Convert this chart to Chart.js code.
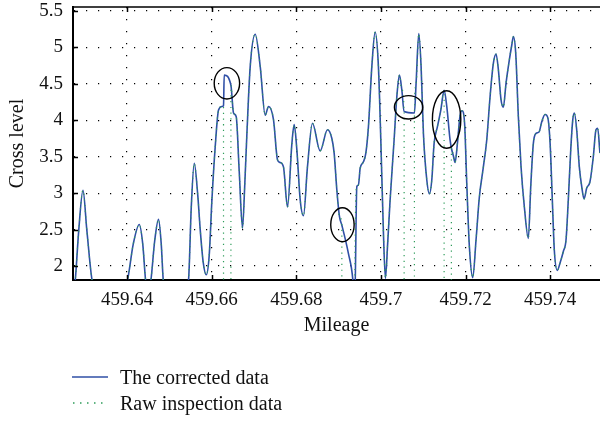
<!DOCTYPE html>
<html>
<head>
<meta charset="utf-8">
<script src="https://cdn.jsdelivr.net/npm/chart.js@4.4.1/dist/chart.umd.min.js"></script>
<style>
  html, body { margin: 0; padding: 0; background: #fff; }
  #wrap { position: relative; width: 600px; height: 421px; }
  #legend {
    position: absolute; left: 72px; top: 364px;
    font-family: "Liberation Serif", "Times New Roman", serif;
    font-size: 20px; color: #111;
  }
  .row { display: flex; align-items: center; height: 26px; }
  .row svg { width: 36px; height: 4px; margin-right: 12px; }
</style>
</head>
<body>
<div id="wrap">
  <canvas id="chart" width="600" height="421"></canvas>
  <div id="legend">
    <div class="row">
      <svg viewBox="0 0 36 4"><line x1="0" y1="2" x2="36" y2="2" stroke="#2f4fa6" stroke-width="1.5"/></svg>
      <span>The corrected data</span>
    </div>
    <div class="row">
      <svg viewBox="0 0 36 4"><line x1="1" y1="2" x2="36" y2="2" stroke="#2e9c5a" stroke-width="1.5" stroke-dasharray="1.5 5.5"/></svg>
      <span>Raw inspection data</span>
    </div>
  </div>
</div>
<script>
// ===== data =====
const xTicks = [459.64, 459.66, 459.68, 459.70, 459.72, 459.74];
const yTicks = [2, 2.5, 3, 3.5, 4, 4.5, 5, 5.5];
const xMin = 459.62722, xMax = 459.75179;
const yMin = 1.808, yMax = 5.555;

// corrected curve (mileage, cross level)
const mileage = [
  459.62658, 459.62776, 459.62859, 459.62958, 459.63048, 459.63171, 459.63580,
  459.64012, 459.64146, 459.64288, 459.64371, 459.64437, 459.64501,
  459.64565, 459.64654, 459.64744, 459.64808, 459.64855, 459.65139,
  459.65453, 459.65517, 459.65588, 459.65670, 459.65729, 459.65800, 459.65871, 459.65942,
  459.66006, 459.66084, 459.66162, 459.66242, 459.66280, 459.66296, 459.66455,
  459.66516, 459.66580, 459.66651, 459.66729, 459.66781, 459.66833, 459.66911,
  459.67029, 459.67147, 459.67265, 459.67343, 459.67461, 459.67555, 459.67619,
  459.67697, 459.67792, 459.67896, 459.67950, 459.68014, 459.68092, 459.68170,
  459.68264, 459.68382, 459.68564, 459.68737, 459.68841, 459.68895, 459.68959,
  459.69020, 459.69077, 459.69233, 459.69337, 459.69379, 459.69431, 459.69469,
  459.69509, 459.69587, 459.69644, 459.69705, 459.69786, 459.69864, 459.69941,
  459.69998, 459.70060, 459.70107, 459.70159, 459.70218, 459.70312, 459.70376,
  459.70438, 459.70494, 459.70549, 459.70792, 459.70832, 459.70896, 459.70950,
  459.71005, 459.71085, 459.71146, 459.71203, 459.71257, 459.71335, 459.71416,
  459.71494, 459.71557, 459.71635, 459.71666, 459.71718, 459.71753, 459.71808,
  459.71872, 459.71919, 459.71978, 459.72030, 459.72091, 459.72172, 459.72249,
  459.72328, 459.72422, 459.72502, 459.72580, 459.72658, 459.72722, 459.72776,
  459.72840, 459.72894, 459.72958, 459.73036, 459.73093, 459.73131, 459.73187,
  459.73249, 459.73313, 459.73391, 459.73485, 459.73542, 459.73603, 459.73667,
  459.73738, 459.73802, 459.73880, 459.73943, 459.74000, 459.74052, 459.74099,
  459.74170, 459.74234, 459.74312, 459.74376, 459.74430, 459.74487, 459.74534,
  459.74572, 459.74628, 459.74690, 459.74747, 459.74801, 459.74865, 459.74943,
  459.75021, 459.75084, 459.75125, 459.75179, 459.75273
];
const corrected = [
  1.30, 1.81, 2.50, 3.04, 2.50, 1.81, 1.20,
  1.81, 2.30, 2.57, 2.30, 1.81, 1.60,
  1.81, 2.35, 2.64, 2.30, 1.81, 1.20,
  1.81, 2.80, 3.41, 2.98, 2.50, 2.05, 1.88, 2.15,
  2.91, 3.64, 4.14, 4.19, 4.20, 4.62, 4.48,
  4.10, 4.05, 3.30, 2.52, 3.10, 3.82, 4.74,
  5.18, 4.74, 4.07, 4.19, 4.01, 3.46, 3.42,
  3.36, 2.81, 3.68, 3.94, 3.59, 2.91, 2.69,
  3.36, 3.96, 3.58, 3.87, 3.75, 3.55, 3.04,
  2.68, 2.56, 2.17, 1.81, 1.40, 3.09, 3.11,
  3.34, 3.43, 3.55, 3.91, 4.74, 5.21, 4.74,
  3.73, 2.45, 1.83, 2.30, 2.91, 3.73, 4.32,
  4.62, 4.42, 4.12, 4.10, 4.51, 5.19, 4.74,
  3.82, 3.18, 2.99, 3.18, 3.68, 3.91, 4.14,
  4.41, 4.19, 3.73, 3.62, 3.50, 3.42, 3.68,
  4.07, 4.13, 3.96, 3.13, 2.27, 1.84, 2.36,
  2.95, 3.36, 3.73, 4.32, 4.78, 4.91, 4.70,
  4.28, 4.18, 4.51, 4.83, 5.03, 5.15, 4.92,
  4.05, 3.36, 2.81, 2.38, 3.09, 3.68, 3.82,
  3.84, 3.98, 4.08, 4.04, 3.68, 2.91, 2.22,
  1.94, 2.04, 2.20, 2.36, 2.91, 3.59, 4.00,
  4.10, 3.87, 3.36, 3.09, 2.92, 3.07, 3.16,
  3.50, 3.87, 3.89, 3.55, 3.20
];

// raw inspection data drops out between these mileages
const dropStart = [459.66280, 459.69077, 459.70549, 459.71494];
const dropEnd   = [459.66455, 459.69379, 459.70792, 459.71666];
const dropLevel = 0;

// circled anomalies
const circleMileage = [459.66360, 459.69091, 459.70655, 459.71553];
const circleLevel   = [4.508, 2.567, 4.178, 4.011];

// ===== build datasets =====
const correctedPoints = mileage.map((m, i) => ({ x: m, y: corrected[i] }));
const rawPoints = [];
mileage.forEach((m, i) => {
  const k = dropStart.findIndex((s, j) => m >= s && m <= dropEnd[j]);
  if (k < 0) {
    rawPoints.push({ x: m, y: corrected[i] });
  } else if (m === dropStart[k]) {
    rawPoints.push({ x: m, y: corrected[i] }, { x: m + 1e-6, y: dropLevel });
  } else if (m === dropEnd[k]) {
    rawPoints.push({ x: m - 1e-6, y: dropLevel }, { x: m, y: corrected[i] });
  }
});

const FONT = "'Liberation Serif', 'Times New Roman', serif";
const fmt = v => String(+Number(v).toFixed(2));

// frame on top + inward tick marks (matlab style)
const framePlugin = {
  id: 'frame',
  afterDraw(chart) {
    const { ctx, chartArea: a, scales: { x, y } } = chart;
    ctx.save();
    ctx.strokeStyle = '#000';
    ctx.lineWidth = 1.5;
    ctx.beginPath();
    ctx.moveTo(a.left, a.top);
    ctx.lineTo(a.right, a.top);
    x.ticks.forEach(t => {
      const px = Math.round(x.getPixelForValue(t.value)) + 0.5;
      ctx.moveTo(px, a.bottom); ctx.lineTo(px, a.bottom - 5);
      ctx.moveTo(px, a.top); ctx.lineTo(px, a.top + 5);
    });
    y.ticks.forEach(t => {
      const py = Math.round(y.getPixelForValue(t.value)) + 0.5;
      ctx.moveTo(a.left, py); ctx.lineTo(a.left + 5, py);
    });
    ctx.stroke();
    ctx.restore();
  }
};

// black ellipses around the anomalies
const circlePlugin = {
  id: 'circles',
  afterDatasetsDraw(chart, args, opts) {
    const { ctx, scales: { x, y } } = chart;
    ctx.save();
    ctx.strokeStyle = '#000';
    ctx.lineWidth = 1.4;
    circleMileage.forEach((m, i) => {
      const [rx, ry] = opts.radii[i];
      ctx.beginPath();
      ctx.ellipse(x.getPixelForValue(m), y.getPixelForValue(circleLevel[i]), rx, ry, 0, 0, Math.PI * 2);
      ctx.stroke();
    });
    ctx.restore();
  }
};

new Chart(document.getElementById('chart'), {
  type: 'line',
  data: {
    datasets: [
      {
        label: 'Raw inspection data',
        data: rawPoints,
        borderColor: '#2e9c5a',
        borderWidth: 1.2,
        borderDash: [1.2, 4.5],
        cubicInterpolationMode: 'monotone',
        pointRadius: 0,
        order: 0
      },
      {
        label: 'The corrected data',
        data: correctedPoints,
        borderColor: '#2f4fa6',
        borderWidth: 1.6,
        cubicInterpolationMode: 'monotone',
        pointRadius: 0,
        order: 1
      }
    ]
  },
  options: {
    responsive: false,
    animation: false,
    events: [],
    layout: { padding: { top: 7, right: 0, bottom: 0, left: 0 } },
    plugins: {
      legend: { display: false },
      tooltip: { enabled: false },
      circles: { radii: [[12.7, 15.7], [11.7, 17], [14.2, 11.7], [14.2, 28.8]] }
    },
    scales: {
      x: {
        type: 'linear',
        min: xMin,
        max: xMax,
        afterBuildTicks: s => { s.ticks = xTicks.map(v => ({ value: v })); },
        afterFit: s => { s.height = 141; s.paddingLeft = 0; s.paddingRight = 0; },
        ticks: { padding: 9, color: '#111', maxRotation: 0, autoSkip: false,
                 font: { family: FONT, size: 19 }, callback: fmt },
        grid: { color: '#000', lineWidth: 1.2, drawTicks: false },
        border: { display: true, color: '#000', width: 2, dash: [1.2, 10.8] },
        title: { display: true, text: 'Mileage', color: '#111',
                 font: { family: FONT, size: 20 }, padding: { top: 0, bottom: 83 } }
      },
      y: {
        type: 'linear',
        min: yMin,
        max: yMax,
        afterBuildTicks: s => { s.ticks = yTicks.map(v => ({ value: v })); },
        afterFit: s => { s.width = 73; s.paddingTop = 0; s.paddingBottom = 0; },
        ticks: { padding: 10, color: '#111', autoSkip: false,
                 font: { family: FONT, size: 19 }, callback: fmt },
        grid: { color: '#000', lineWidth: 1.2, drawTicks: false },
        border: { display: true, color: '#000', width: 2, dash: [1.2, 10.8] },
        title: { display: true, text: 'Cross level', color: '#111',
                 font: { family: FONT, size: 20 }, padding: { top: 6, bottom: 0 } }
      }
    }
  },
  plugins: [framePlugin, circlePlugin]
});
</script>
</body>
</html>
